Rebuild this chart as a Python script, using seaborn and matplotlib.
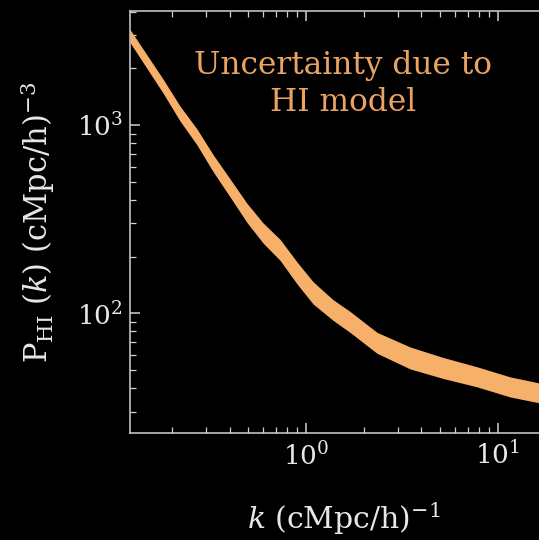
import numpy as np
import pandas as pd
import matplotlib
matplotlib.use("Agg")
import matplotlib.pyplot as plt
import seaborn as sns

# Wavenumbers (cMpc/h)^-1 and the lower / upper envelope of P_HI(k)
k_vals = [0.1208, 0.1795, 0.2202, 0.2700, 0.3272, 0.4014, 0.4924, 0.5966,
          0.7317, 0.8977, 1.088, 1.383, 1.696, 2.346, 3.487, 5.185, 7.80,
          11.59, 16.43, 20.6]
p_upper = [3216, 1755, 1260, 952, 697, 517, 383, 302,
           247, 187, 147, 118, 102.2, 79.1, 66.2, 58.2, 51.9,
           45.9, 42.6, 40.6]
p_lower = [2742, 1479, 1050, 783, 566, 415, 303, 236,
           191, 143, 112, 91.6, 79.1, 61.2, 50.6, 45.0, 40.6,
           35.9, 33.4, 31.8]

band_label = "Uncertainty due to\nHI model"
x_label = r"$k$ (cMpc/h)$^{-1}$"
y_label = r"P$_{\rm HI}$ ($k$) (cMpc/h)$^{-3}$"

band_color = "#f6b06a"
text_color = "#eba363"
fg = "#e8e8e8"

sns.set_theme(style="dark")
plt.rcParams.update({
    "font.family": ["DejaVu Serif"],
    "mathtext.fontset": "dejavuserif",
    "figure.facecolor": "black",
    "axes.facecolor": "black",
    "savefig.facecolor": "black",
    "axes.edgecolor": "#d0d0d0",
    "axes.linewidth": 1.1,
    "text.color": fg,
    "axes.labelcolor": fg,
    "xtick.color": "#d0d0d0",
    "ytick.color": "#d0d0d0",
    "xtick.labelcolor": fg,
    "ytick.labelcolor": fg,
})

# Long-form table: each k appears twice (lower and upper bound);
# a 100% percentile interval then spans exactly the envelope.
df = pd.DataFrame({
    "k": k_vals + k_vals,
    "P": p_lower + p_upper,
})

fig = plt.figure(figsize=(5.39, 5.40), dpi=100)
ax = fig.add_axes([130 / 539, 1 - 433 / 540, (558 - 130) / 539, (433 - 11) / 540])
ax.set_xscale("log")
ax.set_yscale("log")

sns.lineplot(data=df, x="k", y="P", estimator="mean", errorbar=("pi", 100),
             color=band_color, linewidth=0, err_kws={"alpha": 1.0, "linewidth": 0},
             ax=ax)

ax.set_xlim(0.1208, 20.6)
ax.set_ylim(23.1, 4030)

ax.grid(False)
for side in ("top", "right", "left", "bottom"):
    ax.spines[side].set_visible(True)
    ax.spines[side].set_color("#d0d0d0")

ax.tick_params(which="both", direction="in", top=True, right=True,
               bottom=True, left=True)
ax.tick_params(which="major", length=7, width=1.1, labelsize=19)
ax.tick_params(which="minor", length=4, width=0.9)
ax.tick_params(axis="x", which="major", pad=6)
ax.tick_params(axis="y", which="major", pad=5)

ax.set_xlabel(x_label, fontsize=21.5)
ax.set_ylabel(y_label, fontsize=22)
ax.xaxis.set_label_coords(0.5, -0.16)
ax.yaxis.set_label_coords(-0.17, 0.5)

fig.text(343 / 539, 1 - 84 / 540, band_label, color=text_color, fontsize=22.5,
         ha="center", va="center", linespacing=1.27)

fig.savefig("out.png", dpi=100)
